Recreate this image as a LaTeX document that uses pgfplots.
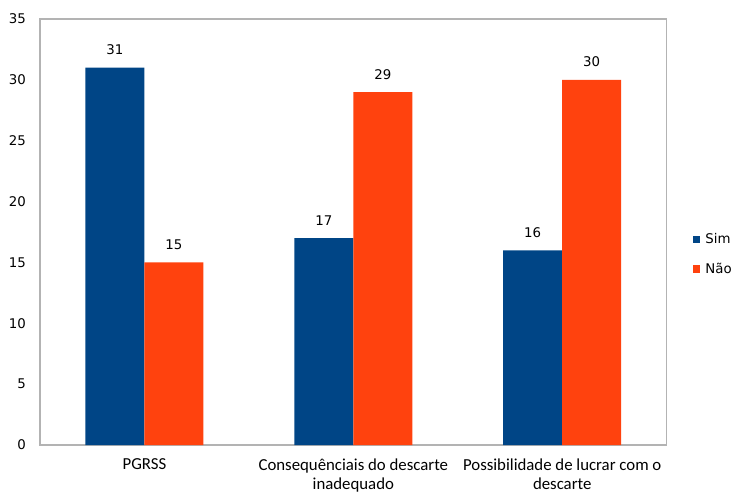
\documentclass[border=0pt]{standalone}
\usepackage{pgfplots}
\pgfplotsset{compat=1.18}
\usepackage{fontspec}
\setmainfont{DejaVu Sans}
\newfontfamily\catfont{Carlito}

\definecolor{simblue}{HTML}{004586}
\definecolor{naoorange}{HTML}{FF420E}
\definecolor{framegray}{HTML}{B3B3B3}

\pgfplotsset{
  sqlegend/.style={legend image code/.code={\fill[##1] (0pt,-2.7pt) rectangle (5.4pt,2.7pt);}}
}

\pgfplotstableread{
x sim nao
0 31 15
1 17 29
2 16 30
}\dados

\begin{document}
\begin{tikzpicture}
\useasboundingbox (0,0) rectangle (552pt,370.5pt);
\begin{axis}[
  at={(30pt,36.75pt)}, anchor=south west,
  scale only axis, width=470pt, height=319.5pt,
  ybar=0pt, bar width=44.25pt,
  xmin=-0.5, xmax=2.5, ymin=0, ymax=35,
  xtick=data,
  xticklabels={PGRSS, {Consequênciais do descarte\\inadequado}, {Possibilidade de lucrar com o\\descarte}},
  xticklabel style={font=\catfont\fontsize{12.6pt}{14.8pt}\selectfont, align=center, yshift=-6.5pt},
  ytick={0,5,...,35},
  yticklabel style={font=\fontsize{10pt}{12pt}\selectfont, xshift=-7pt},
  /pgf/number format/assume math mode=true,
  major tick length=0pt,
  axis line style={framegray, line width=1pt},
  nodes near coords,
  nodes near coords style={font=\fontsize{10pt}{12pt}\selectfont, yshift=6pt, /pgf/number format/assume math mode=true},
  legend style={at={(1.035,0.51)}, anchor=north west, draw=none, fill=none,
    font=\fontsize{10pt}{12pt}\selectfont, row sep=9pt,
    /tikz/every odd column/.append style={column sep=2pt}},
  legend cell align=left,
]
\addplot[fill=simblue, draw=none, sqlegend] table[x=x, y=sim] {\dados};
\addplot[fill=naoorange, draw=none, sqlegend] table[x=x, y=nao] {\dados};
\legend{Sim, Não}
\end{axis}
\end{tikzpicture}
\end{document}
